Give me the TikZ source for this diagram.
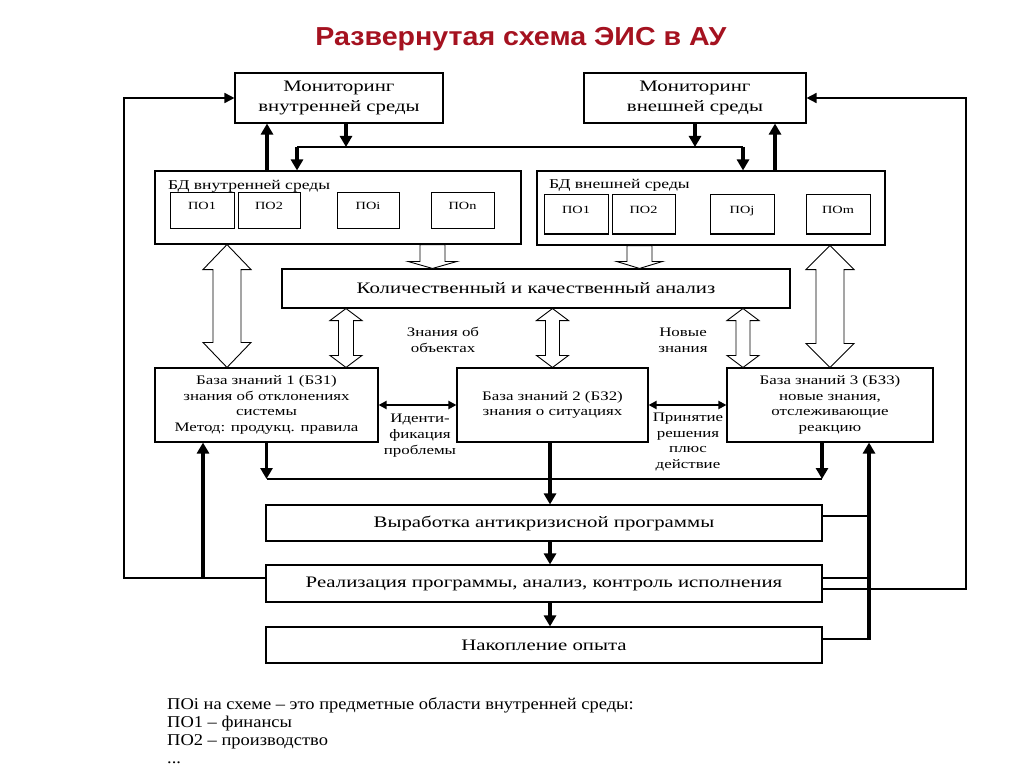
\documentclass[tikz,border=0pt]{standalone}
\usepackage{fontspec}
\setmainfont{Liberation Serif}
\newfontfamily\df[FakeStretch=1.3]{Liberation Serif}
\newfontfamily\nf[FakeStretch=1.12]{Liberation Serif}
\newfontfamily\tfont[FakeStretch=1.1]{Liberation Sans}
\usetikzlibrary{arrows.meta,calc}
\definecolor{titlered}{RGB}{165,18,32}
\newcommand\vdarrow[6]{%
  \coordinate (va) at (#1,0 |- #2);
  \coordinate (vb) at (#1,0 |- #3);
  \draw[blk] (va) -- ($(va)+(#5,#6)$) -- ($(va)+(#4,#6)$) -- ($(vb)+(#4,-#6)$) -- ($(vb)+(#5,-#6)$) -- (vb)
    -- ($(vb)+(-#5,-#6)$) -- ($(vb)+(-#4,-#6)$) -- ($(va)+(-#4,#6)$) -- ($(va)+(-#5,#6)$) -- cycle;}
\newcommand\vsarrow[6]{%
  \coordinate (va) at (#1,0 |- #2);
  \coordinate (vb) at (#1,0 |- #3);
  \draw[blk] ($(va)+(-#4,0)$) -- ($(va)+(#4,0)$) -- ($(vb)+(#4,-#6)$) -- ($(vb)+(#5,-#6)$) -- (vb)
    -- ($(vb)+(-#5,-#6)$) -- ($(vb)+(-#4,-#6)$) -- cycle;}
\begin{document}
\begin{tikzpicture}[x=1pt,y=-1pt,
  box/.style={draw, line width=1.1pt, fill=white, inner sep=0pt, align=center, font=\df\fontsize{16}{19.5}\selectfont},
  kbbox/.style={box, font=\df\fontsize{13}{15.5}\selectfont},
  pobox/.style={draw, line width=1pt, inner sep=0pt, font=\df\fontsize{11}{13}\selectfont, text depth=10pt},
  lbl/.style={inner sep=0pt, align=center, font=\df\fontsize{13}{15.7}\selectfont},
  fat/.style={line width=3.6pt, -{Triangle[length=11pt,width=12pt]}},
  thinl/.style={line width=1.1pt},
  loopl/.style={line width=1.6pt, -{Triangle[length=10pt,width=10pt]}},
  kbarr/.style={line width=2pt, {Triangle[length=8pt,width=8pt]}-{Triangle[length=8pt,width=8pt]}},
  blk/.style={draw, line width=0.9pt, fill=white, line join=miter}
]
\useasboundingbox (0,0) rectangle (1024,767);
\fill[white] (0,0) rectangle (1024,767);

% title
\node[anchor=base, font=\tfont\bfseries\fontsize{26}{30}\selectfont, text=titlered, inner sep=0pt] (title) at (521,46) {Развернутая схема ЭИС в АУ};

% monitoring
\node[box, minimum width=208pt, minimum height=50pt] (monin) at (339,98) {Мониторинг\\внутренней среды};
\node[box, minimum width=222pt, minimum height=50pt] (monex) at (695,98) {Мониторинг\\внешней среды};

% databases
\node[draw, line width=1.1pt, minimum width=366pt, minimum height=73pt, inner sep=0pt] (bdin) at (338,207.5) {};
\node[anchor=base west, font=\df\fontsize{13.5}{15}\selectfont, inner sep=0pt] (bdinl) at (168,190) {БД внутренней среды};
\node[pobox, minimum width=64pt, minimum height=36pt] (po1i) at (202,211) {ПО1};
\node[pobox, minimum width=62pt, minimum height=36pt] (po2i) at (269,211) {ПО2};
\node[pobox, minimum width=62pt, minimum height=36pt] (poii) at (368,211) {ПОi};
\node[pobox, minimum width=63pt, minimum height=36pt] (poni) at (462.5,211) {ПОn};

\node[draw, line width=1.1pt, minimum width=348pt, minimum height=74pt, inner sep=0pt] (bdex) at (711,208) {};
\node[anchor=base west, font=\df\fontsize{13.5}{15}\selectfont, inner sep=0pt] (bdexl) at (549,189) {БД внешней среды};
\node[pobox, minimum width=64pt, minimum height=39pt] (po1e) at (576,214.5) {ПО1};
\node[pobox, minimum width=63pt, minimum height=39pt] (po2e) at (643.5,214.5) {ПО2};
\node[pobox, minimum width=64pt, minimum height=39pt] (poje) at (742,214.5) {ПОj};
\node[pobox, minimum width=64pt, minimum height=39pt] (pome) at (838,214.5) {ПОm};

% analysis
\node[box, minimum width=508pt, minimum height=39pt] (anal) at (536,288.5) {Количественный и качественный анализ};

% knowledge bases
\node[kbbox, minimum width=223pt, minimum height=74pt] (kb1) at (266.5,405) {База знаний 1 (БЗ1)\\знания об отклонениях\\системы\\Метод: продукц. правила};
\node[kbbox, minimum width=191pt, minimum height=74pt] (kb2) at (552.5,405) {База знаний 2 (БЗ2)\\знания о ситуациях};
\node[kbbox, minimum width=206pt, minimum height=74pt] (kb3) at (830,405) {База знаний 3 (БЗ3)\\новые знания,\\отслеживающие\\реакцию};

% lower boxes
\node[box, minimum width=556pt, minimum height=36pt] (vyr) at (544,523) {Выработка антикризисной программы};
\node[box, minimum width=556pt, minimum height=37pt] (real) at (544,583.5) {Реализация программы, анализ, контроль исполнения};
\node[box, minimum width=556pt, minimum height=36pt] (nak) at (544,645) {Накопление опыта};

% labels
\node[lbl] (zno) at (443,340) {Знания об\\объектах};
\node[lbl] (nz) at (683,340) {Новые\\знания};
\node[lbl] (idp) at (420,435.5) {Иденти-\\фикация\\проблемы};
\node[lbl] (prd) at (688,442) {Принятие\\решения\\плюс\\действие};

% note
\node[anchor=north west, align=left, inner sep=0pt, font=\nf\fontsize{16.5}{18}\selectfont] (note) at (167,697.5) {ПОi на схеме – это предметные области внутренней среды:\\ПО1 – финансы\\ПО2 – производство\\...};

% block arrows
\vdarrow{227}{bdin.south}{kb1.north}{14}{24}{25}
\vdarrow{830}{bdex.south}{kb3.north}{14}{24}{24}
\vdarrow{346}{anal.south}{kb1.north}{7.5}{16}{12}
\vdarrow{552.5}{anal.south}{kb2.north}{7}{16}{12}
\vdarrow{743}{anal.south}{kb3.north}{7}{16}{12}
\vsarrow{432.5}{bdin.south}{anal.north}{12.5}{24.5}{7}
\vsarrow{639.5}{bdex.south}{anal.north}{12.5}{23}{7}

% top connectors
\coordinate (busL) at (297,147);
\coordinate (busR) at (743,147);
\coordinate (bm1) at (346,147);
\coordinate (bm2) at (695,147);
\coordinate (up1) at (267,0);
\coordinate (up2) at (775,0);
\draw[line width=1.8pt] (busL) -- (busR);
\draw[fat] (bm1 |- monin.south) -- (bm1);
\draw[fat] (bm2 |- monex.south) -- (bm2);
\draw[fat] (busL) -- (busL |- bdin.north);
\draw[fat] (busR) -- (busR |- bdex.north);
\draw[fat] (up1 |- bdin.north) -- (up1 |- monin.south);
\draw[fat] (up2 |- bdex.north) -- (up2 |- monex.south);

% knowledge-base links
\draw[kbarr] (kb1.east) -- (kb2.west);
\draw[kbarr] (kb2.east) -- (kb3.west);

% lower bus
\coordinate (bbL) at (266.5,479);
\coordinate (bbR) at (822,479);
\coordinate (cx) at (550,0);
\draw[thinl] (bbL) -- (bbR);
\draw[fat] (bbL |- kb1.south) -- (bbL);
\draw[fat] (bbR |- kb3.south) -- (bbR);
\draw[fat] (cx |- kb2.south) -- (cx |- vyr.north);
\draw[fat] (cx |- vyr.south) -- (cx |- real.north);
\draw[fat] (cx |- real.south) -- (cx |- nak.north);

% feedback loops
\coordinate (cL) at (124,98);
\coordinate (cR) at (966,98);
\draw[loopl] ([yshift=5.5pt]real.west) -| (cL) -- (monin.west);
\draw[loopl] ([yshift=-5.5pt]real.east) -| (cR) -- (monex.east);
\coordinate (jL) at (203,578);
\coordinate (jR) at (869,640);
\draw[fat] (jL) -- (jL |- kb1.south);
\draw[fat] (jR) -- (jR |- kb3.south);
\draw[thinl] ([yshift=7pt]vyr.east) -- ++(47,0);
\draw[thinl] ([yshift=5.5pt]real.east) -- ++(47,0);
\draw[thinl] ([yshift=6pt]nak.east) -- ++(47,0);
\end{tikzpicture}
\end{document}
